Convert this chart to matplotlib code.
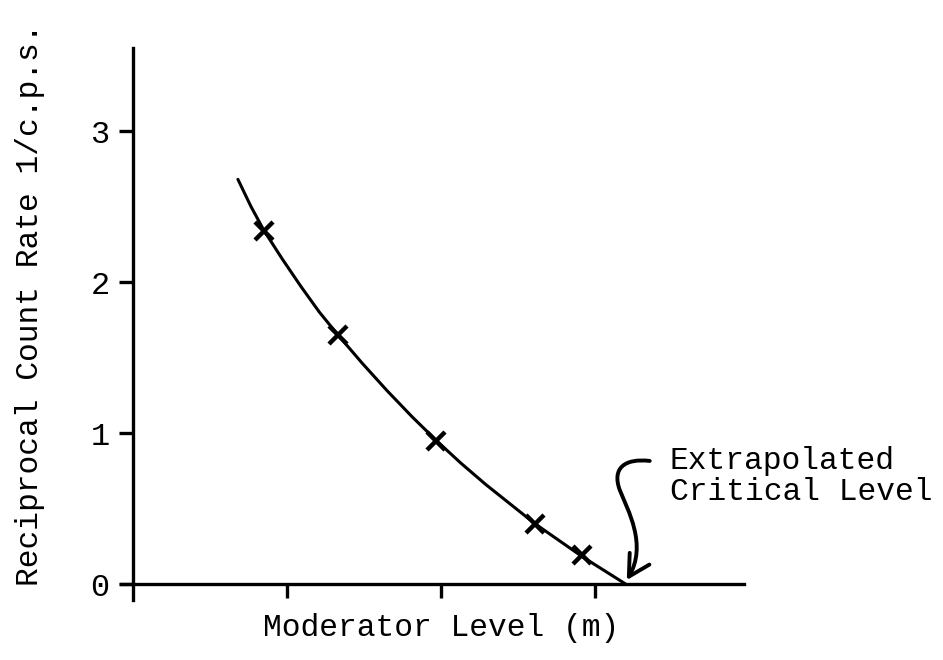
import matplotlib.pyplot as plt
from matplotlib.path import Path
from matplotlib.patches import FancyArrowPatch

plt.rcParams["font.family"] = ["Liberation Mono", "DejaVu Sans Mono"]

# measured points (crosses)
nivel = [0.85, 1.33, 1.97, 2.61, 2.92]
taxa_inv = [2.34, 1.65, 0.95, 0.40, 0.19]

# hand drawn curve
curva_x = [0.68, 0.765, 0.85, 0.97, 1.09, 1.21, 1.33, 1.49, 1.65, 1.81, 1.97,
           2.13, 2.29, 2.45, 2.61, 2.765, 2.92, 3.06, 3.20]
curva_y = [2.68, 2.50, 2.34, 2.15, 1.97, 1.80, 1.65, 1.46, 1.28, 1.11, 0.95,
           0.80, 0.66, 0.53, 0.40, 0.29, 0.18, 0.09, 0.00]

y_ticks = [0, 1, 2, 3]
x_ticks = [1, 2, 3]

fig = plt.figure(figsize=(9.43, 6.60), dpi=100)
ax = fig.add_axes([0.1283, 0.0909, 0.6607, 0.8364])

ax.plot(curva_x, curva_y, color="black", lw=2.2, solid_capstyle="round",
        solid_joinstyle="round")
ax.plot(nivel, taxa_inv, "x", color="black", ms=13, mew=3.2)

ax.set_xlim(-0.08, 3.97)
ax.set_ylim(-0.106, 3.55)

for s in ["top", "right"]:
    ax.spines[s].set_visible(False)
ax.spines["left"].set_position(("data", 0))
ax.spines["bottom"].set_position(("data", 0))
ax.spines["left"].set_linewidth(2.4)
ax.spines["bottom"].set_linewidth(2.4)

ax.set_xticks(x_ticks)
ax.set_xticklabels([])
ax.set_yticks(y_ticks)
ax.set_yticklabels([str(t) for t in y_ticks])
ax.tick_params(direction="out", length=10, width=2.4, labelsize=23, pad=7)

fig.text(30 / 943, 1 - 305 / 660, "Reciprocal Count Rate 1/c.p.s.",
         rotation=90, ha="center", va="center", fontsize=22.5)
fig.text(441 / 943, 1 - 628 / 660, "Moderator Level (m)",
         ha="center", va="center", fontsize=22.5)

fig.text(670 / 943, 1 - 446 / 660, "Extrapolated\nCritical Level",
         ha="left", va="top", fontsize=22.5, linespacing=1.05)

# curly arrow pointing at the extrapolated level
verts = [(3.357, 0.815), (3.195, 0.834), (3.110, 0.768), (3.162, 0.623),
         (3.214, 0.490), (3.344, 0.258), (3.208, 0.026)]
codes = [Path.MOVETO, Path.CURVE4, Path.CURVE4, Path.CURVE4,
         Path.CURVE4, Path.CURVE4, Path.CURVE4]
seta = FancyArrowPatch(path=Path(verts, codes),
                       arrowstyle="->,head_length=1.0,head_width=0.55",
                       mutation_scale=15, lw=2.8, color="black",
                       capstyle="round", joinstyle="round")
ax.add_patch(seta)

plt.savefig("out.png", dpi=100)
